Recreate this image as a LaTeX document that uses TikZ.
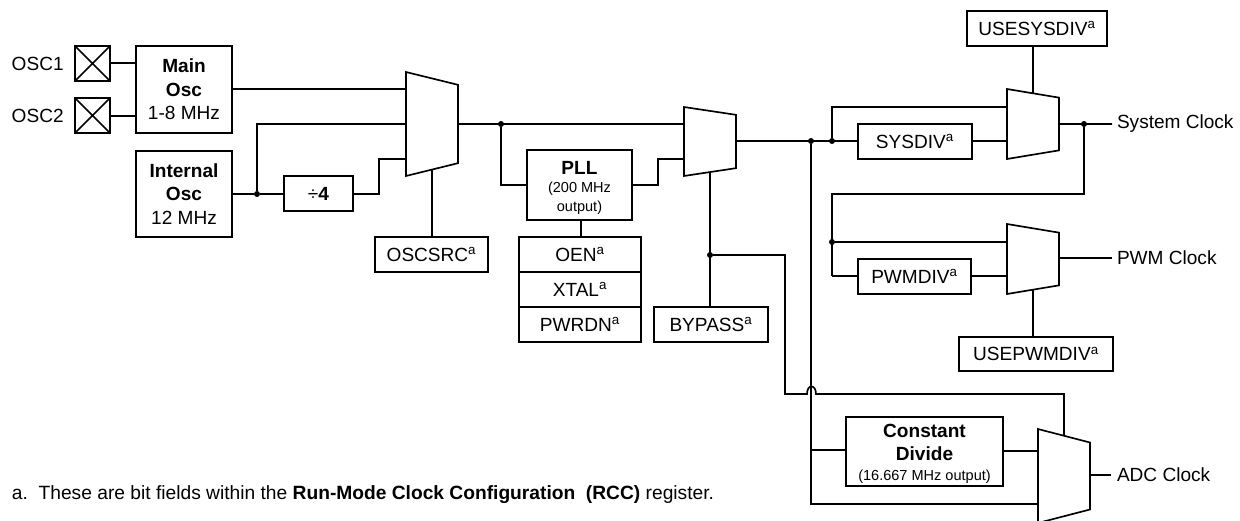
\documentclass[tikz,border=0pt]{standalone}
\usepackage{fontspec}
\setmainfont{Liberation Sans}
\usetikzlibrary{positioning,shapes.geometric}
\newcommand{\fld}{\textsuperscript{a}}
\newcommand{\bigtext}{\fontsize{14.3}{17.5}\selectfont}
\newcommand{\smalltext}{\fontsize{10.9}{13.5}\selectfont}
\tikzset{
  block/.style 2 args={draw,rectangle,align=center,inner sep=0pt,outer sep=0pt,
    minimum width=#1*0.75pt,minimum height=#2*0.75pt},
  pad/.style={draw,rectangle,inner sep=0pt,outer sep=0pt,minimum size=26.25pt,
    path picture={\draw (path picture bounding box.north west) -- (path picture bounding box.south east)
      (path picture bounding box.north east) -- (path picture bounding box.south west);}},
  mux/.style 2 args={draw,trapezium,shape border rotate=270,trapezium stretches=true,
    trapezium angle=#2,inner sep=0pt,outer sep=0pt,
    minimum width=#1*0.75pt,minimum height=39pt},
  junction/.style={circle,fill,inner sep=0pt,outer sep=0pt,minimum size=4.5pt},
  label/.style={inner sep=0pt,outer sep=0pt}
}
\begin{document}
\begin{tikzpicture}[x=0.75pt,y=-0.75pt,line width=1.25pt,font=\bigtext]
  \useasboundingbox (0,0) rectangle (1240,521);
  \clip (0,0) rectangle (1240,521);

  % inputs
  \node[pad] (pad1) at (92.5,63.5)  {};
  \node[pad] (pad2) at (92.5,115.5) {};
  \node[label] (osc1) [left=8.5pt of pad1] {OSC1};
  \node[label] (osc2) [left=8.5pt of pad2] {OSC2};
  \node[block={96}{87}] (mainosc) at (184,89.5) {\textbf{Main}\\\textbf{Osc}\\1-8 MHz};
  \node[block={96}{86}] (intosc) at (184,194) {\textbf{Internal}\\\textbf{Osc}\\12 MHz};
  \node[block={69}{35}] (divfour) at (318.5,193.5) {÷\textbf{4}};
  \node[mux={104}{80.2}] (mux1) at (432,124) {\phantom{x}};
  \node[block={113}{35}] (oscsrc) at (431.5,254.5) {OSCSRC\fld};
  \node[junction] (dota) at (257,194) {};
  \coordinate (mux1in) at (406,159);

  \draw (pad1.east |- 0,63) -- (mainosc.west |- 0,63);
  \draw (pad2.east |- 0,116) -- (mainosc.west |- 0,116);
  \draw (mainosc.east |- 0,89) -- (mux1.west |- 0,89);
  \draw (intosc.east |- dota) -- (dota) -- (divfour.west |- dota);
  \draw (dota) |- (mux1.west);
  \draw (divfour.east |- dota) -- ++(26,0) |- (mux1in);
  \draw (mux1.south) -- (mux1.south |- oscsrc.north);

  % PLL
  \node[block={105}{70}] (pll) at (579.5,185) {\rule{0pt}{14pt}\textbf{PLL}\\[-3.5pt]{\smalltext (200 MHz}\\[-3.5pt]{\smalltext output)}};
  \node[block={122}{35}] (oen) at (580,254.5) {OEN\fld};
  \node[block={122}{35}] (xtal) at (580,289.5) {XTAL\fld};
  \node[block={122}{35}] (pwrdn) at (580,324.5) {PWRDN\fld};
  \node[mux={69}{81.2}] (mux2) at (710,141.5) {\phantom{x}};
  \node[block={114}{35}] (bypass) at (711,324.5) {BYPASS\fld};
  \node[junction] (dotb) at (501,124) {};
  \node[junction] (dotc) at (710,255) {};
  \coordinate (mux2a) at (684,124);
  \coordinate (mux2b) at (684,159);
  \coordinate (pllstem) at (581,220);

  \draw (mux1.east) -- (mux2a);
  \draw (dotb) |- (pll.west);
  \draw (pll.east) -- ++(26,0) |- (mux2b);
  \draw (pllstem) -- (oen.north -| pllstem);
  \draw (mux2.south) -- (mux2.south |- bypass.north);

  % system clock
  \node[block={140}{35}] (usesysdiv) at (1037,28.5) {USESYSDIV\fld};
  \node[block={114}{35}] (sysdiv) at (915,141.5) {SYSDIV\fld};
  \node[mux={70}{80.2}] (mux3) at (1033,124) {\phantom{x}};
  \node[label] (sysclk) [anchor=west] at (1117,124) {System Clock};
  \node[junction] (dotd) at (811,141) {};
  \node[junction] (dote) at (832,141) {};
  \node[junction] (dotf) at (1084,124) {};
  \coordinate (mux3a) at (1007,107);
  \coordinate (mux3b) at (1007,141);
  \coordinate (sysend) at (1112,124);
  \coordinate (fback) at (832,194);

  \draw (mux2.east |- 0,141) -- (sysdiv.west |- 0,141);
  \draw (dote) |- (mux3a);
  \draw (sysdiv.east |- 0,141) -- (mux3b);
  \draw (usesysdiv.south -| mux3.north) -- (mux3.north);
  \draw (mux3.east) -- (sysend);
  \draw (dotf) |- (fback) -- (832,276);

  % pwm clock
  \node[block={113}{35}] (pwmdiv) at (914.5,276.5) {PWMDIV\fld};
  \node[mux={70}{80.2}] (mux4) at (1033,259) {\phantom{x}};
  \node[block={154}{34}] (usepwmdiv) at (1036,354) {USEPWMDIV\fld};
  \node[label] (pwmclk) [anchor=west] at (1117,258) {PWM Clock};
  \node[junction] (dotg) at (832,242) {};
  \coordinate (mux4a) at (1007,242);
  \coordinate (mux4b) at (1007,276);
  \coordinate (pwmend) at (1112,258);

  \draw (dotg) -- (mux4a);
  \draw (832,276) -- (pwmdiv.west |- 0,276);
  \draw (pwmdiv.east |- 0,276) -- (mux4b);
  \draw (mux4.east |- pwmend) -- (pwmend);
  \draw (mux4.south) -- (mux4.south |- usepwmdiv.north);

  % adc clock
  \node[block={157}{69}] (constdiv) at (924.5,451.5) {\rule{0pt}{14pt}\textbf{Constant}\\\textbf{Divide}\\[-2.5pt]{\smalltext (16.667 MHz output)}};
  \node[mux={94}{78}] (mux5) at (1064,476) {\phantom{x}};
  \node[label] (adcclk) [anchor=west] at (1117,475) {ADC Clock};
  \coordinate (adcend) at (1111,475);
  \coordinate (hopa) at (807,394);
  \coordinate (hopb) at (816,394);
  \coordinate (mux5a) at (1038,451);
  \coordinate (mux5b) at (1038,504);
  \coordinate (adcbend) at (811,504);

  \draw (dotc) -| (785,394) -- (hopa) .. controls (807,384) and (816,384) .. (hopb) -| (mux5.north);
  \draw (dotd) -- (adcbend) -- (mux5b);
  \draw (811,450) -- (constdiv.west |- 0,450);
  \draw (constdiv.east |- mux5a) -- (mux5a);
  \draw (mux5.east |- adcend) -- (adcend);

  % note
  \node[label] (note) [anchor=base west] at (12,499) {\fontsize{14.4}{17}\selectfont a.\ \ These are bit fields within the \textbf{Run-Mode Clock Configuration\ \ (RCC)} register.};
\end{tikzpicture}
\end{document}
